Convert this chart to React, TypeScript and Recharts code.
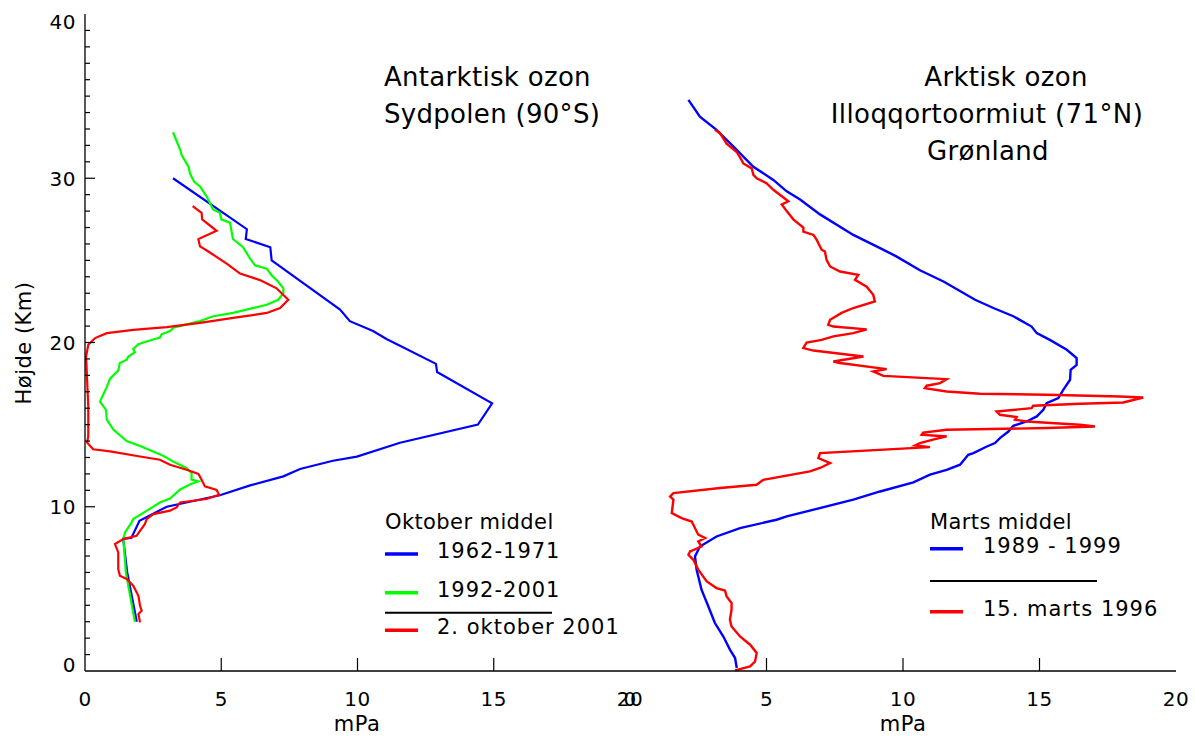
import React from 'react'
import { LineChart, Line, XAxis, YAxis, Legend } from 'recharts'

// ozone profiles, [mPa, km], top to bottom
const syd6271: [number, number][] = [
  [3.23, 30.0], [5.94, 26.9], [5.9, 26.3], [6.8, 25.8], [6.85, 25.0], [9.36, 22.0], [9.72, 21.3],
  [10.57, 20.7], [11.08, 20.2], [11.56, 19.8], [12.88, 18.7], [12.92, 18.2], [14.94, 16.3],
  [14.42, 15.0], [11.56, 13.9], [9.98, 13.05], [9.1, 12.8], [7.89, 12.3], [7.28, 11.85],
  [6.06, 11.3], [4.95, 10.7], [3.0, 10.0], [2.0, 9.15], [1.7, 8.1], [1.4, 8.05], [1.55, 6.0],
  [1.9, 3.0],
]

const syd9201: [number, number][] = [
  [3.23, 32.8], [3.5, 31.7], [3.55, 31.4], [3.8, 30.7], [3.85, 30.3], [4.0, 29.8], [4.22, 29.5],
  [4.46, 28.9], [4.7, 28.1], [4.95, 27.9], [5.0, 27.5], [5.32, 27.3], [5.43, 26.3], [5.8, 25.8],
  [6.06, 25.1], [6.24, 24.7], [6.67, 24.5], [6.85, 24.1], [7.09, 23.7], [7.28, 23.3], [7.28, 23.0],
  [7.09, 22.6], [6.67, 22.3], [5.93, 22.0], [5.44, 21.8], [4.71, 21.6], [4.22, 21.3], [3.73, 21.1],
  [3.24, 20.9], [3.12, 20.7], [2.81, 20.5], [2.75, 20.3], [2.14, 20.0], [1.96, 19.9], [1.77, 19.6],
  [1.83, 19.4], [1.59, 19.15], [1.53, 18.95], [1.28, 18.75], [1.22, 18.3], [0.92, 17.8],
  [0.8, 17.3], [0.55, 16.4], [0.77, 15.9], [0.8, 15.3], [1.04, 14.7], [1.53, 14.0], [2.02, 13.7],
  [2.87, 13.1], [3.24, 12.75], [3.73, 12.35], [3.91, 12.05], [3.91, 11.65], [4.16, 11.55],
  [3.85, 11.35], [3.49, 11.05], [3.12, 10.5], [2.75, 10.26], [2.26, 9.75], [1.77, 9.25],
  [1.71, 9.05], [1.47, 8.44], [1.41, 8.03], [1.5, 6.0], [1.83, 3.0],
]

const syd2001: [number, number][] = [
  [3.95, 28.3], [4.28, 27.9], [4.3, 27.5], [4.83, 26.8], [4.16, 26.3], [4.22, 25.85], [4.47, 25.6],
  [5.2, 24.8], [5.69, 24.2], [6.42, 23.8], [7.03, 23.3], [7.46, 22.6], [7.16, 22.1], [6.67, 21.8],
  [5.44, 21.5], [4.22, 21.2], [3.0, 20.94], [1.77, 20.77], [0.8, 20.57], [0.37, 20.27],
  [0.12, 19.86], [0.04, 19.15], [0.12, 16.1], [0.12, 14.3], [0.08, 13.9], [0.3, 13.5],
  [0.92, 13.37], [2.02, 13.06], [2.75, 12.86], [3.12, 12.56], [3.73, 12.25], [4.16, 12.0],
  [4.28, 11.64], [4.4, 11.24], [4.83, 11.03], [4.92, 10.73], [4.46, 10.47], [3.49, 10.26],
  [3.36, 9.96], [3.12, 9.76], [2.51, 9.55], [2.26, 9.25], [2.2, 8.95], [1.89, 8.23], [1.41, 8.03],
  [1.1, 7.73], [1.22, 7.22], [1.22, 6.2], [1.28, 5.8], [1.53, 5.6], [1.77, 5.19], [1.96, 4.58],
  [2.02, 3.97], [2.08, 3.67], [1.96, 3.47], [2.02, 2.96],
]

const arkt8999: [number, number][] = [
  [2.14, 34.77], [2.56, 33.75], [3.17, 32.95], [3.79, 31.93], [4.52, 30.7], [5.25, 29.9],
  [5.74, 29.2], [6.23, 28.7], [6.96, 27.8], [8.18, 26.55], [9.16, 25.75], [9.77, 25.23],
  [10.62, 24.4], [11.5, 23.7], [12.64, 22.6], [13.31, 22.1], [14.04, 21.6], [14.71, 20.97],
  [14.9, 20.57], [15.38, 20.16], [16.0, 19.56], [16.36, 19.05], [16.36, 18.64], [16.14, 18.34],
  [16.12, 17.73], [15.87, 17.12], [15.69, 16.62], [15.26, 16.31], [15.14, 15.9], [14.9, 15.5],
  [14.53, 15.19], [14.04, 14.93], [13.86, 14.58], [13.55, 14.18], [13.37, 13.88], [13.07, 13.67],
  [12.58, 13.27], [12.39, 13.16], [12.09, 12.56], [11.6, 12.25], [10.99, 11.95], [10.38, 11.48],
  [9.16, 10.93], [8.18, 10.43], [5.74, 9.41], [5.37, 9.21], [4.03, 8.7], [3.17, 8.19],
  [2.56, 7.58], [2.38, 6.97], [2.44, 6.17], [2.62, 4.95], [2.87, 3.93], [3.11, 2.92], [3.42, 2.1],
  [3.66, 1.3], [3.85, 0.79], [3.91, 0.18],
]

const arkt1996: [number, number][] = [
  [3.11, 32.95], [3.3, 32.74], [3.54, 32.1], [3.91, 31.6], [4.09, 31.1], [4.15, 30.9], [4.46, 30.6],
  [4.52, 30.2], [4.64, 30.0], [5.0, 29.7], [5.25, 29.3], [5.56, 28.9], [5.8, 28.6], [5.56, 28.4],
  [5.74, 28.0], [5.98, 27.5], [6.35, 27.0], [6.35, 26.75], [6.72, 26.55], [6.84, 26.25],
  [6.96, 25.85], [7.02, 25.65], [7.14, 25.54], [7.2, 25.03], [7.33, 24.63], [7.69, 24.32],
  [8.36, 24.12], [8.24, 23.82], [8.67, 23.4], [8.91, 22.9], [8.97, 22.5], [8.18, 22.1],
  [7.75, 21.8], [7.33, 21.38], [7.26, 21.08], [7.45, 20.97], [8.67, 20.8], [8.18, 20.57],
  [7.45, 20.37], [7.02, 20.16], [6.47, 20.0], [6.35, 19.66], [6.72, 19.51], [8.55, 19.15],
  [7.45, 18.84], [7.69, 18.75], [9.4, 18.38], [8.91, 18.24], [9.28, 17.97], [11.6, 17.77],
  [11.36, 17.53], [10.87, 17.37], [10.8, 17.22], [11.6, 17.02], [12.82, 16.88], [15.26, 16.82],
  [17.95, 16.71], [18.8, 16.65], [18.07, 16.35], [16.48, 16.27], [14.77, 16.15], [14.71, 16.0],
  [13.43, 15.8], [13.55, 15.6], [14.16, 15.46], [14.1, 15.3], [14.53, 15.19], [16.48, 14.99],
  [17.03, 14.89], [15.26, 14.79], [11.6, 14.69], [10.74, 14.52], [10.68, 14.38], [11.6, 14.28],
  [11.17, 14.12], [10.62, 13.88], [10.44, 13.73], [10.99, 13.63], [6.96, 13.27], [6.9, 12.96],
  [7.33, 12.66], [6.96, 12.36], [6.59, 12.15], [4.88, 11.64], [4.64, 11.34], [3.3, 11.14],
  [1.59, 10.83], [1.47, 10.63], [1.59, 10.43], [1.53, 9.62], [1.89, 9.31], [2.26, 9.1],
  [2.32, 8.9], [2.5, 8.3], [2.75, 8.1], [2.5, 7.89], [2.62, 7.58], [2.2, 7.28], [2.14, 7.08],
  [2.32, 6.77], [2.5, 6.17], [2.81, 5.45], [3.17, 5.05], [3.48, 4.9], [3.54, 4.54], [3.72, 4.14],
  [3.72, 3.73], [3.66, 3.12], [3.72, 2.71], [4.03, 2.1], [4.4, 1.6], [4.64, 1.1], [4.58, 0.58],
  [4.4, 0.28], [3.85, 0.04],
]

const kmTicks = [
  0, 1, 2, 3, 4, 5, 6, 7, 8, 9, 10, 11, 12, 13, 14, 15, 16, 17, 18, 19, 20,
  21, 22, 23, 24, 25, 26, 27, 28, 29, 30, 31, 32, 33, 34, 35, 36, 37, 38, 39, 40,
]
const mpaTicks = [0, 5, 10, 15, 20]

const FONT = '"DejaVu Sans", Verdana, sans-serif'
const INK = '#000'

const rows = (pts: [number, number][]) => pts.map(([mpa, km]) => ({ mpa, km }))

// ticks point into the plot, IDL style
function yTick(side: 'left' | 'right', labels: boolean) {
  // eslint-disable-next-line @typescript-eslint/no-explicit-any
  return (props: any) => {
    const { x, y, payload } = props
    const v = payload.value as number
    const dir = side === 'left' ? 1 : -1
    const major = v % 10 === 0
    const edge = v === 0 || v === 40
    let ly = y + 7.5
    if (v === 40) ly = y + 15
    if (v === 0) ly = y + 1
    return (
      <g>
        {!edge && (
          <line x1={x} y1={y} x2={x + dir * (major ? 10 : 5)} y2={y} stroke={INK} strokeWidth={1.2} />
        )}
        {labels && major && (
          <text x={x - 9} y={ly} textAnchor="end" fontSize={20} letterSpacing={0.5} fill={INK}>{v}</text>
        )}
      </g>
    )
  }
}

function xTick(side: 'top' | 'bottom') {
  // eslint-disable-next-line @typescript-eslint/no-explicit-any
  return (props: any) => {
    const { x, y, payload } = props
    const v = payload.value as number
    const edge = v === 0 || v === 20
    const dir = side === 'bottom' ? -1 : 1
    return (
      <g>
        {!edge && <line x1={x} y1={y} x2={x} y2={y + dir * 13} stroke={INK} strokeWidth={1.2} />}
        {side === 'bottom' && (
          <text x={x} y={y + 35} textAnchor="middle" fontSize={20} letterSpacing={0.5} fill={INK}>{v}</text>
        )}
      </g>
    )
  }
}

interface LegendCfg {
  title: string
  names: string[]
  titleY: number
  lineY: number[]
  ruleY: number
  textX: number
}

// eslint-disable-next-line @typescript-eslint/no-explicit-any
const ProfileLegend = ({ payload, cfg }: any) => {
  const c = cfg as LegendCfg
  // keep the series order of the original, not recharts' sorted one
  // eslint-disable-next-line @typescript-eslint/no-explicit-any
  const items = [...(payload ?? [])].sort((a: any, b: any) => c.names.indexOf(a.value) - c.names.indexOf(b.value))
  return (
    <svg width={260} height={150} style={{ overflow: 'visible', fontFamily: FONT }}>
      <text x={10} y={c.titleY} fontSize={21} fill={INK} letterSpacing={0.4}>{c.title}</text>
      {/* eslint-disable-next-line @typescript-eslint/no-explicit-any */}
      {items.map((p: any, i: number) => (
        <g key={p.value}>
          <line x1={10} x2={43} y1={c.lineY[i]} y2={c.lineY[i]} stroke={p.color} strokeWidth={3.5} />
          <text x={c.textX} y={c.lineY[i] + 4} fontSize={21} fill={INK} letterSpacing={1}>{p.value}</text>
        </g>
      ))}
      <line x1={10} x2={177} y1={c.ruleY} y2={c.ruleY} stroke={INK} strokeWidth={2} />
    </svg>
  )
}

const sydLegend: LegendCfg = {
  title: 'Oktober middel', names: ['1962-1971', '1992-2001', '2. oktober 2001'],
  titleY: 29, lineY: [54, 92.7, 130.3], ruleY: 112.7, textX: 62,
}
const arktLegend: LegendCfg = {
  title: 'Marts middel', names: ['1989 - 1999', '15. marts 1996'],
  titleY: 29.3, lineY: [48.7, 111.7], ruleY: 81, textX: 63,
}

const frame = { stroke: INK, strokeWidth: 1.3 }
const lineProps = { type: 'linear' as const, dot: false, activeDot: false, isAnimationActive: false, xAxisId: 'b', yAxisId: 'l', dataKey: 'km' }

export default function App() {
  return (
    <div style={{ position: 'absolute', left: 0, top: 0, width: 1195, height: 736, background: '#fff', fontFamily: FONT }}>
      <div style={{ position: 'absolute', left: 0, top: 0 }}>
        <LineChart width={660} height={736} margin={{ top: 14, right: 30, bottom: 0, left: 0 }}>
          <XAxis xAxisId="b" orientation="bottom" type="number" dataKey="mpa" domain={[0, 20]} ticks={mpaTicks}
            interval={0} height={65} tickSize={0} tickMargin={0} tickLine={false} tick={xTick('bottom')} axisLine={frame} />
          <XAxis xAxisId="t" orientation="top" mirror type="number" dataKey="mpa" domain={[0, 20]} ticks={mpaTicks}
            interval={0} height={0} tickSize={0} tickMargin={0} tickLine={false} tick={xTick('top')} axisLine={frame} />
          <YAxis yAxisId="l" orientation="left" type="number" domain={[0, 40]} ticks={kmTicks} interval={0}
            width={85} tickSize={0} tickMargin={0} tickLine={false} tick={yTick('left', true)} axisLine={frame} />
          <YAxis yAxisId="r" orientation="right" mirror type="number" domain={[0, 40]} ticks={kmTicks} interval={0}
            width={0} tickSize={0} tickMargin={0} tickLine={false} tick={yTick('right', false)} axisLine={frame} />
          <Line {...lineProps} data={rows(syd6271)} name="1962-1971" stroke="#0000ff" strokeWidth={2.2} />
          <Line {...lineProps} data={rows(syd9201)} name="1992-2001" stroke="#00ff00" strokeWidth={2.2} />
          <Line {...lineProps} data={rows(syd2001)} name="2. oktober 2001" stroke="#ff0000" strokeWidth={2.2} />
          <Legend layout="horizontal" verticalAlign="middle" align="center"
            wrapperStyle={{ left: 375, top: 500, width: 260, height: 150 }}
            content={(p) => <ProfileLegend {...p} cfg={sydLegend} />} />
        </LineChart>
      </div>

      <div style={{ position: 'absolute', left: 600, top: 0 }}>
        <LineChart width={595} height={736} margin={{ top: 14, right: 19, bottom: 0, left: 30 }}>
          <XAxis xAxisId="b" orientation="bottom" type="number" dataKey="mpa" domain={[0, 20]} ticks={mpaTicks}
            interval={0} height={65} tickSize={0} tickMargin={0} tickLine={false} tick={xTick('bottom')} axisLine={frame} />
          <XAxis xAxisId="t" orientation="top" mirror type="number" dataKey="mpa" domain={[0, 20]} ticks={mpaTicks}
            interval={0} height={0} tickSize={0} tickMargin={0} tickLine={false} tick={xTick('top')} axisLine={frame} />
          <YAxis yAxisId="l" orientation="left" mirror type="number" domain={[0, 40]} ticks={kmTicks} interval={0}
            width={0} tickSize={0} tickMargin={0} tickLine={false} tick={yTick('left', false)} axisLine={frame} />
          <YAxis yAxisId="r" orientation="right" mirror type="number" domain={[0, 40]} ticks={kmTicks} interval={0}
            width={0} tickSize={0} tickMargin={0} tickLine={false} tick={yTick('right', false)} axisLine={frame} />
          <Line {...lineProps} data={rows(arkt8999)} name="1989 - 1999" stroke="#0000ff" strokeWidth={2.4} />
          <Line {...lineProps} data={rows(arkt1996)} name="15. marts 1996" stroke="#ff0000" strokeWidth={2.4} />
          <Legend layout="horizontal" verticalAlign="middle" align="center"
            wrapperStyle={{ left: 320, top: 500, width: 260, height: 150 }}
            content={(p) => <ProfileLegend {...p} cfg={arktLegend} />} />
        </LineChart>
      </div>

      {/* panel titles and axis titles */}
      <svg width={1195} height={736} style={{ position: 'absolute', left: 0, top: 0, pointerEvents: 'none' }}>
        <text x={31} y={343} transform="rotate(-90 31 343)" textAnchor="middle" fontSize={21} letterSpacing={0.5} fill={INK}>Højde (Km)</text>
        <text x={357} y={731} textAnchor="middle" fontSize={21} letterSpacing={0.5} fill={INK}>mPa</text>
        <text x={903} y={731} textAnchor="middle" fontSize={21} letterSpacing={0.5} fill={INK}>mPa</text>
        <text x={384} y={86} fontSize={26} letterSpacing={0.3} fill={INK}>Antarktisk ozon</text>
        <text x={384} y={123} fontSize={26} letterSpacing={0.3} fill={INK}>Sydpolen (90°S)</text>
        <text x={1006} y={86} textAnchor="middle" fontSize={26} letterSpacing={0.3} fill={INK}>Arktisk ozon</text>
        <text x={987} y={123} textAnchor="middle" fontSize={26} letterSpacing={0.4} fill={INK}>Illoqqortoormiut (71°N)</text>
        <text x={988} y={160} textAnchor="middle" fontSize={26} letterSpacing={0.3} fill={INK}>Grønland</text>
      </svg>
    </div>
  )
}
